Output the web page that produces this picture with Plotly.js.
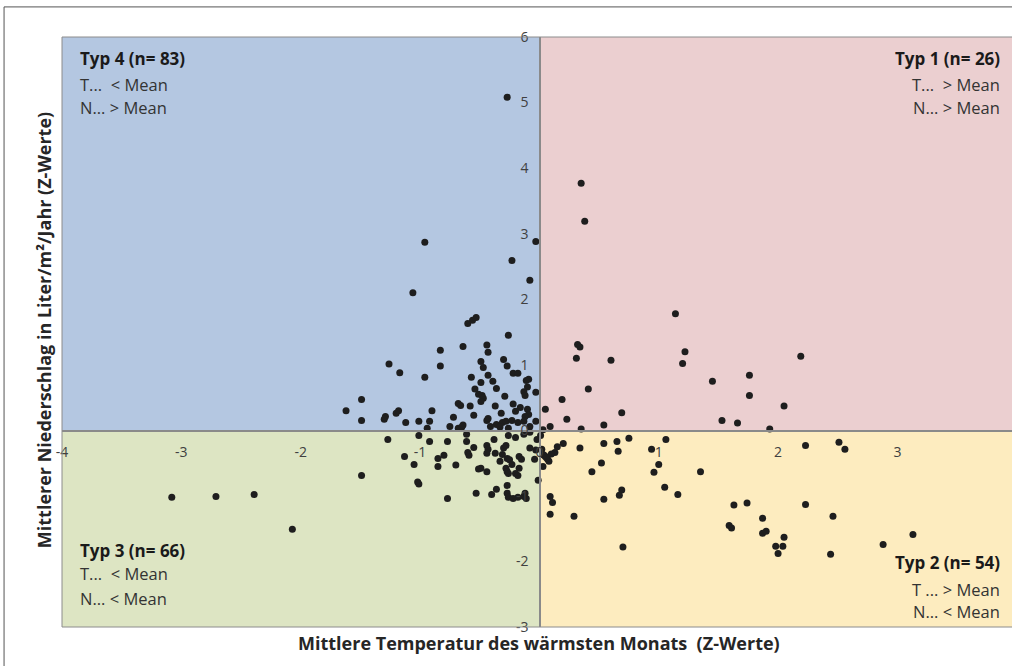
<!DOCTYPE html>
<html>
<head>
<meta charset="utf-8">
<script src="https://cdn.plot.ly/plotly-3.0.1.min.js"></script>
<style>html,body{margin:0;padding:0;background:#fff;}#chart{width:1012px;height:666px;}</style>
</head>
<body>
<div id="chart"></div>
<script>
// Typ 4: T < Mean, N > Mean (blue quadrant)
const typ4X = [-0.27,-0.96,-0.03,-0.23,-0.08,-1.06,-0.60,-0.56,-0.53,-0.26,-0.83,-0.64,-0.44,-0.43,-0.30,-0.27,-1.26,-1.17,-0.83,-0.96,-0.49,-0.47,-0.22,-0.18,-0.57,-0.43,-0.49,-0.39,-0.36,-0.11,-0.09,-0.10,-0.54,-0.51,-0.48,-0.47,-0.49,-0.13,-0.12,-0.03,-1.49,-1.62,-1.49,-1.29,-1.30,-1.20,-1.18,-1.12,-1.01,-0.92,-0.90,-0.94,-0.68,-0.66,-0.72,-0.55,-0.44,-0.43,-0.36,-0.31,-0.28,-0.23,-0.32,-0.22,-0.16,-0.10,-0.09,-0.12,-0.18,-0.13,-0.68,-0.65,-0.64,-0.26,-0.41,-0.33,-0.08,-0.20,-0.58,-0.29,-0.37,-0.75,-0.03];
const typ4Y = [5.08,2.87,2.88,2.59,2.29,2.10,1.63,1.68,1.72,1.45,1.22,1.28,1.30,1.19,1.08,0.98,1.01,0.88,0.98,0.81,1.05,0.96,0.87,0.87,0.81,0.84,0.73,0.75,0.64,0.76,0.78,0.66,0.63,0.55,0.53,0.49,0.44,0.59,0.53,0.58,0.47,0.30,0.15,0.21,0.17,0.26,0.30,0.12,0.14,0.14,0.30,0.03,0.41,0.38,0.20,0.23,0.15,0.18,0.09,0.12,0.14,0.15,0.26,0.40,0.35,0.32,0.24,0.21,0.12,0.14,0.03,0.05,0.08,0.03,0.06,0.05,0.06,0.29,0.37,0.52,0.37,0.06,0.14];
// Typ 1: T > Mean, N > Mean (red quadrant)
const typ1X = [1.14,0.32,0.34,0.31,0.60,1.22,1.20,2.19,1.45,1.76,1.76,0.41,0.19,0.05,2.05,0.69,0.23,1.53,1.66,0.54,0.35,1.93,0.03,0.35,0.38,0.09];
const typ1Y = [1.78,1.31,1.27,1.10,1.07,1.20,1.02,1.13,0.75,0.84,0.53,0.63,0.47,0.32,0.37,0.27,0.17,0.15,0.11,0.08,0.02,0.02,0.01,3.77,3.19,0.06];
// Typ 3: T < Mean, N < Mean (green quadrant)
const typ3X = [-3.08,-2.71,-2.39,-2.07,-1.49,-1.27,-1.13,-1.01,-0.92,-1.05,-1.02,-1.01,-0.85,-0.85,-0.77,-0.80,-0.70,-0.77,-0.61,-0.61,-0.55,-0.60,-0.59,-0.44,-0.43,-0.38,-0.44,-0.37,-0.31,-0.30,-0.28,-0.26,-0.20,-0.08,-0.02,-0.08,-0.04,-0.33,-0.27,-0.25,-0.17,-0.15,-0.23,-0.51,-0.49,-0.44,-0.28,-0.27,-0.26,-0.20,-0.18,-0.17,-0.27,-0.36,-0.40,-0.53,-0.27,-0.26,-0.18,-0.13,-0.12,-0.11,-0.01,-0.13,-0.22,-0.03];
const typ3Y = [-1.02,-1.01,-0.98,-1.51,-0.69,-0.14,-0.40,-0.08,-0.17,-0.52,-0.79,-0.82,-0.43,-0.55,-0.17,-0.38,-0.53,-1.04,-0.06,-0.17,-0.26,-0.34,-0.38,-0.23,-0.29,-0.14,-0.35,-0.35,-0.37,-0.27,-0.23,-0.08,-0.11,-0.03,-0.14,-0.27,-0.44,-0.47,-0.43,-0.45,-0.40,-0.44,-0.52,-0.59,-0.58,-0.63,-0.58,-0.63,-0.66,-0.66,-0.69,-0.58,-0.84,-0.90,-0.98,-0.96,-0.96,-1.02,-1.02,-1.01,-0.96,-1.04,-0.76,-0.06,-1.04,-0.30];
// Typ 2: T > Mean, N < Mean (yellow quadrant)
const typ2X = [0.20,0.34,0.54,0.65,0.66,0.75,1.06,0.94,0.03,0.05,0.07,0.13,0.52,0.44,1.00,0.96,1.35,2.23,2.51,2.56,0.09,0.11,0.09,0.29,0.54,0.69,0.67,1.05,1.16,1.63,1.74,1.87,2.23,2.46,1.59,1.61,1.87,1.90,2.05,1.98,2.04,2.00,2.44,0.70,2.88,3.13,0.02,0.08,0.04,0.06,0.10,0.03,0.15,0.01];
const typ2Y = [-0.20,-0.27,-0.20,-0.17,-0.32,-0.12,-0.14,-0.29,-0.37,-0.40,-0.44,-0.34,-0.50,-0.63,-0.52,-0.64,-0.63,-0.23,-0.18,-0.29,-1.01,-1.10,-1.28,-1.31,-1.05,-0.91,-0.99,-0.87,-0.98,-1.14,-1.11,-1.34,-1.13,-1.31,-1.45,-1.49,-1.57,-1.54,-1.63,-1.77,-1.77,-1.88,-1.89,-1.78,-1.74,-1.59,-0.29,-0.47,-0.38,-0.42,-0.36,-0.55,-0.25,-0.08];

const xTicks = [-4,-3,-2,-1,0,1,2,3];
const yTicks = [-3,-2,-1,0,1,2,3,4,5,6];

const quadLabels = [
  {title: 'Typ 4 (n= 83)', l1: 'T...  < Mean', l2: 'N... > Mean'},
  {title: 'Typ 1 (n= 26)', l1: 'T...  > Mean', l2: 'N... > Mean'},
  {title: 'Typ 3 (n= 66)', l1: 'T...  < Mean', l2: 'N... < Mean'},
  {title: 'Typ 2 (n= 54)', l1: 'T ... > Mean', l2: 'N... < Mean'}
];
const xTitle = 'Mittlere Temperatur des wärmsten Monats  (Z-Werte)';
const yTitle = 'Mittlerer Niederschlag in Liter/m²/Jahr (Z-Werte)';

const FONT = '"Open Sans", Lato, sans-serif';
const marker = {color: '#1e1e1e', size: 7, line: {width: 0}};
function tr(x, y, name) {
  return {x: x, y: y, type: 'scatter', mode: 'markers', name: name, marker: marker, hoverinfo: 'x+y', showlegend: false, cliponaxis: false};
}
const data = [tr(typ4X, typ4Y, 'Typ 4'), tr(typ1X, typ1Y, 'Typ 1'), tr(typ3X, typ3Y, 'Typ 3'), tr(typ2X, typ2Y, 'Typ 2')];

const XMIN = -4, XMAX = 3.96, YMIN = -3, YMAX = 6;
const shapes = [
  {type: 'rect', xref: 'x', yref: 'y', x0: -4, x1: 0, y0: 0, y1: 6, fillcolor: '#b4c7e1', line: {width: 0}, layer: 'below'},
  {type: 'rect', xref: 'x', yref: 'y', x0: 0, x1: 4, y0: 0, y1: 6, fillcolor: '#ebcfd0', line: {width: 0}, layer: 'below'},
  {type: 'rect', xref: 'x', yref: 'y', x0: -4, x1: 0, y0: -3, y1: 0, fillcolor: '#dde5c3', line: {width: 0}, layer: 'below'},
  {type: 'rect', xref: 'x', yref: 'y', x0: 0, x1: 4, y0: -3, y1: 0, fillcolor: '#fdecbf', line: {width: 0}, layer: 'below'},
  {type: 'rect', xref: 'paper', yref: 'paper', x0: 0, x1: 1.01, y0: 0, y1: 1, line: {color: '#8c8c8c', width: 1}, layer: 'above'},
  {type: 'line', xref: 'paper', yref: 'paper', x0: -0.061, x1: 1.05, y0: 1.051, y1: 1.051, line: {color: '#555', width: 1}},
  {type: 'line', xref: 'paper', yref: 'paper', x0: -0.061, x1: -0.061, y0: 1.051, y1: -0.07, line: {color: '#555', width: 1}}
];

const annotations = [];
function ql(text, x, y, xanchor, bold) {
  annotations.push({xref: 'paper', yref: 'paper', x: x, y: y, xanchor: xanchor, yanchor: 'middle', showarrow: false,
    text: bold ? '<b>' + text + '</b>' : text,
    font: {family: FONT, size: bold ? 17 : 16.5, color: bold ? '#1a1a1a' : '#333333'}});
}
ql(quadLabels[0].title, 0.0168, 0.964, 'left', true);
ql(quadLabels[0].l1, 0.0168, 0.920, 'left', false);
ql(quadLabels[0].l2, 0.0168, 0.880, 'left', false);
ql(quadLabels[1].title, 0.989, 0.964, 'right', true);
ql(quadLabels[1].l1, 0.989, 0.920, 'right', false);
ql(quadLabels[1].l2, 0.989, 0.881, 'right', false);
ql(quadLabels[2].title, 0.0168, 0.1305, 'left', true);
ql(quadLabels[2].l1, 0.0168, 0.090, 'left', false);
ql(quadLabels[2].l2, 0.0168, 0.049, 'left', false);
ql(quadLabels[3].title, 0.989, 0.1085, 'right', true);
ql(quadLabels[3].l1, 0.989, 0.0644, 'right', false);
ql(quadLabels[3].l2, 0.989, 0.0271, 'right', false);
annotations.push({xref: 'paper', yref: 'paper', x: 0.502, y: -0.027, xanchor: 'center', yanchor: 'middle', showarrow: false,
  text: '<b>' + xTitle + '</b>', font: {family: FONT, size: 18, color: '#262626'}});
annotations.push({xref: 'paper', yref: 'paper', x: -0.019, y: 0.503, xanchor: 'center', yanchor: 'middle', showarrow: false, textangle: -90,
  text: '<b>' + yTitle + '</b>', font: {family: FONT, size: 18, color: '#262626'}});

const layout = {
  width: 1012, height: 666,
  margin: {l: 62, r: 0, t: 37, b: 39, pad: 0},
  paper_bgcolor: '#ffffff', plot_bgcolor: '#ffffff',
  font: {family: FONT, color: '#404040', size: 14},
  xaxis: {range: [XMIN, XMAX], tickvals: xTicks, ticktext: xTicks.map(String), showgrid: false, zeroline: false,
    anchor: 'free', position: 3 / 9, showline: true, linecolor: '#8a8a8a', linewidth: 1.5, ticks: '', ticklabelstandoff: 8,
    tickfont: {family: FONT, size: 14, color: '#404040'}, fixedrange: true},
  yaxis: {range: [YMIN, YMAX], tickvals: yTicks, ticktext: yTicks.map(String), showgrid: false, zeroline: false,
    anchor: 'free', position: (0 - XMIN) / (XMAX - XMIN), showline: true, linecolor: '#8a8a8a', linewidth: 1.5, ticks: '', ticklabelstandoff: 8,
    tickfont: {family: FONT, size: 14, color: '#404040'}, fixedrange: true},
  shapes: shapes,
  annotations: annotations,
  showlegend: false
};
Plotly.newPlot('chart', data, layout, {displayModeBar: false, staticPlot: true});
</script>
</body>
</html>
